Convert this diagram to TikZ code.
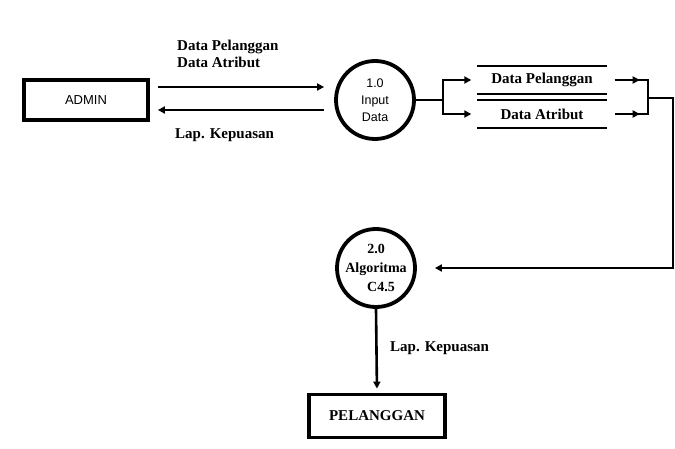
\documentclass[tikz,border=0pt]{standalone}
\usepackage{fontspec}
\setmainfont{Liberation Serif}
\setsansfont{Liberation Sans}
\usetikzlibrary{positioning,arrows.meta,calc}

\begin{document}
\begin{tikzpicture}[x=1pt,y=-1pt,
  ent/.style={draw,line width=3.8pt,inner sep=0pt},
  proc/.style={draw,circle,line width=3.8pt,minimum size=78pt,inner sep=0pt,align=center},
  store/.style={minimum width=129pt,minimum height=28pt,inner sep=0pt,
               font=\fontsize{15}{17}\selectfont\bfseries},
  lbl/.style={font=\fontsize{15}{17}\selectfont\bfseries,align=left,inner sep=0pt},
  sl/.style={line width=2.4pt},
  ln/.style={line width=2.6pt},
  a/.style={-{Triangle[length=7pt,width=7pt]},line width=2.6pt}]
\useasboundingbox (0,0) rectangle (675,449);
% entities
\node[ent,minimum width=124pt,minimum height=40pt,font=\sffamily\fontsize{13}{15}\selectfont] (admin) at (86,100) {ADMIN};
\node[ent,minimum width=136pt,minimum height=43pt,font=\fontsize{15}{17}\selectfont\bfseries] (pel) at (377,416) {PELANGGAN};
% processes
\node[proc,font=\sffamily\fontsize{12.5}{17}\selectfont] (p1) at (375,100) {1.0\\Input\\Data};
\node[proc,font=\fontsize{14}{19}\selectfont\bfseries] (p2) at (376,268) {2.0\\Algoritma\\\hspace{10pt}C4.5};
% data stores
\node[store] (st1) at (542,80) {Data Pelanggan};
\node[store] (st2) at (542,114) {Data Atribut};
\draw[sl] (st1.north west) -- (st1.north east);
\draw[sl] (st1.south west) -- (st1.south east);
\draw[sl] (st2.north west) -- (st2.north east);
\draw[sl] (st2.south west) -- (st2.south east);
% admin <-> input
\draw[a,shorten <=8pt,shorten >=10pt] ([yshift=13pt]admin.east) -- ([yshift=13pt]admin.east -| p1.west);
\draw[a,shorten <=10pt,shorten >=8pt] ([yshift=-10pt]admin.east -| p1.west) -- ([yshift=-10pt]admin.east);
\node[lbl,anchor=north west] (lin) at (177,40) {Data Pelanggan\\Data Atribut};
\node[lbl,anchor=west] (lout) at (175,135) {Lap. Kepuasan};
% input -> stores
\coordinate (fork) at (443,100);
\draw[ln] (p1.east) -- (fork);
\draw[a,shorten >=6pt] (fork) |- (st1.west);
\draw[a,shorten >=6pt] (fork) |- (st2.west);
% stores -> algoritma
\coordinate (join) at (648,98);
\coordinate (edge) at (673,98);
\draw[a] ([xshift=8pt]st1.east) -- ([xshift=33pt]st1.east);
\draw[a] ([xshift=8pt]st2.east) -- ([xshift=33pt]st2.east);
\draw[ln] ([xshift=30pt]st1.east) -| (join);
\draw[ln] ([xshift=30pt]st2.east) -| (join);
\draw[a,shorten >=18pt] (join) -- (edge) |- (p2.east);
% algoritma -> pelanggan
\draw[a,shorten >=4pt] (p2.south) -- (pel.north);
\node[lbl,anchor=west] (lout2) at (390,348) {Lap. Kepuasan};
\end{tikzpicture}
\end{document}
